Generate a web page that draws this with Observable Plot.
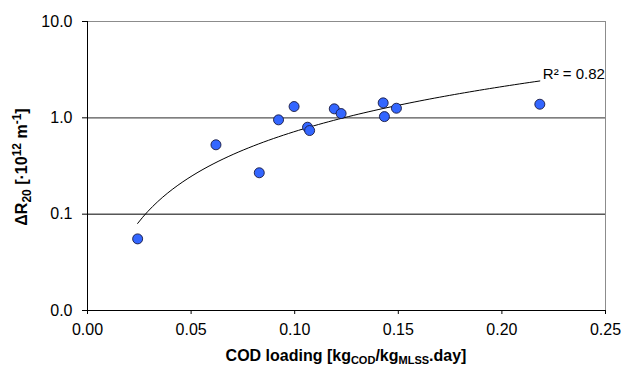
<!DOCTYPE html>
<html>
<head>
<meta charset="utf-8">
<script src="https://cdn.jsdelivr.net/npm/d3@7"></script>
<script src="https://cdn.jsdelivr.net/npm/@observablehq/plot@0.6"></script>
<style>
  html, body { margin: 0; padding: 0; background: #fff; }
  #chart { width: 621px; height: 367px; overflow: hidden; }
</style>
</head>
<body>
<div id="chart"></div>
<script>
// COD loading (kg COD / kg MLSS.day)
const codLoading = [0.0242, 0.0620, 0.0829, 0.0922, 0.0997, 0.1062, 0.1072, 0.1191, 0.1224, 0.1427, 0.1433, 0.1491, 0.2183];
// ΔR20 (·10^12 m^-1)
const deltaR20 = [0.0554, 0.525, 0.269, 0.953, 1.31, 0.799, 0.738, 1.24, 1.108, 1.43, 1.03, 1.258, 1.384];
const xTicks = [0, 0.05, 0.10, 0.15, 0.20, 0.25];
const yTicks = [0.01, 0.1, 1, 10];
const r2Label = "R² = 0.82";

const points = codLoading.map((x, i) => ({x, y: deltaR20[i]}));

// Power trendline (least squares in log-log space), as a spreadsheet fit does
const lx = codLoading.map(Math.log), ly = deltaR20.map(Math.log);
const mx = d3.mean(lx), my = d3.mean(ly);
const b = d3.sum(lx, (v, i) => (v - mx) * (ly[i] - my)) / d3.sum(lx, v => (v - mx) ** 2);
const a = Math.exp(my - b * mx);
const [x0, x1] = d3.extent(codLoading);
const fit = d3.range(0, 81).map(i => { const x = x0 + (x1 - x0) * i / 80; return {x, y: a * Math.pow(x, b)}; });
const fitEnd = fit[fit.length - 1];

const svg = Plot.plot({
  width: 621,
  height: 367,
  marginLeft: 87,
  marginRight: 16,
  marginTop: 21,
  marginBottom: 57,
  style: {fontFamily: "'Liberation Sans', Arial, sans-serif", fontSize: "16px", color: "#000", background: "#fff", overflow: "hidden"},
  x: {domain: [0, 0.25], label: null},
  y: {type: "log", domain: [0.01, 10], label: null},
  marks: [
    Plot.ruleY([0.1], {stroke: "#000", strokeWidth: 1}),
    Plot.ruleY([1], {stroke: "#555", strokeWidth: 1.4}),
    Plot.ruleY([10], {stroke: "#8c8c8c", strokeWidth: 1}),
    Plot.ruleX([0.25], {stroke: "#8c8c8c", strokeWidth: 1}),
    Plot.ruleX([0], {stroke: "#000", strokeWidth: 1}),
    Plot.ruleY([0.01], {stroke: "#000", strokeWidth: 1}),
    Plot.axisX({ticks: xTicks, tickFormat: d => d.toFixed(2), tickSize: 4, tickPadding: 9, label: null, fontSize: 16}),
    Plot.axisY({ticks: yTicks, tickFormat: d => d.toFixed(1), tickSize: 5, tickPadding: 10, label: null, fontSize: 16}),
    Plot.line(fit, {x: "x", y: "y", stroke: "#000", strokeWidth: 1}),
    Plot.dot(points, {x: "x", y: "y", r: 5, fill: "#3366ff", stroke: "#1a1a40", strokeWidth: 0.9}),
    Plot.text([fitEnd], {x: "x", y: "y", text: () => r2Label, textAnchor: "start", dx: 3, dy: -7, fontSize: 15, fill: "#000"})
  ]
});

const s = d3.select(svg);
// X axis title with subscripts
const xt = s.append("text")
  .attr("x", 346).attr("y", 361)
  .attr("text-anchor", "middle")
  .attr("font-weight", "bold").attr("font-size", 16).attr("fill", "#000");
xt.append("tspan").text("COD loading [kg");
xt.append("tspan").attr("font-size", 11).attr("dy", 3).text("COD");
xt.append("tspan").attr("dy", -3).text("/kg");
xt.append("tspan").attr("font-size", 11).attr("dy", 3).text("MLSS");
xt.append("tspan").attr("dy", -3).text(".day]");

// Y axis title with sub/superscripts
const yt = s.append("text")
  .attr("transform", "translate(27,167) rotate(-90)")
  .attr("text-anchor", "middle")
  .attr("font-weight", "bold").attr("font-size", 16).attr("fill", "#000");
yt.append("tspan").text("ΔR");
yt.append("tspan").attr("font-size", 12).attr("dy", 4).text("20");
yt.append("tspan").attr("dy", -4).text(" [·10");
yt.append("tspan").attr("font-size", 12).attr("dy", -6).text("12");
yt.append("tspan").attr("dy", 6).text(" m");
yt.append("tspan").attr("font-size", 12).attr("dy", -6).text("-1");
yt.append("tspan").attr("dy", 6).text("]");

document.getElementById("chart").append(svg);
</script>
</body>
</html>
